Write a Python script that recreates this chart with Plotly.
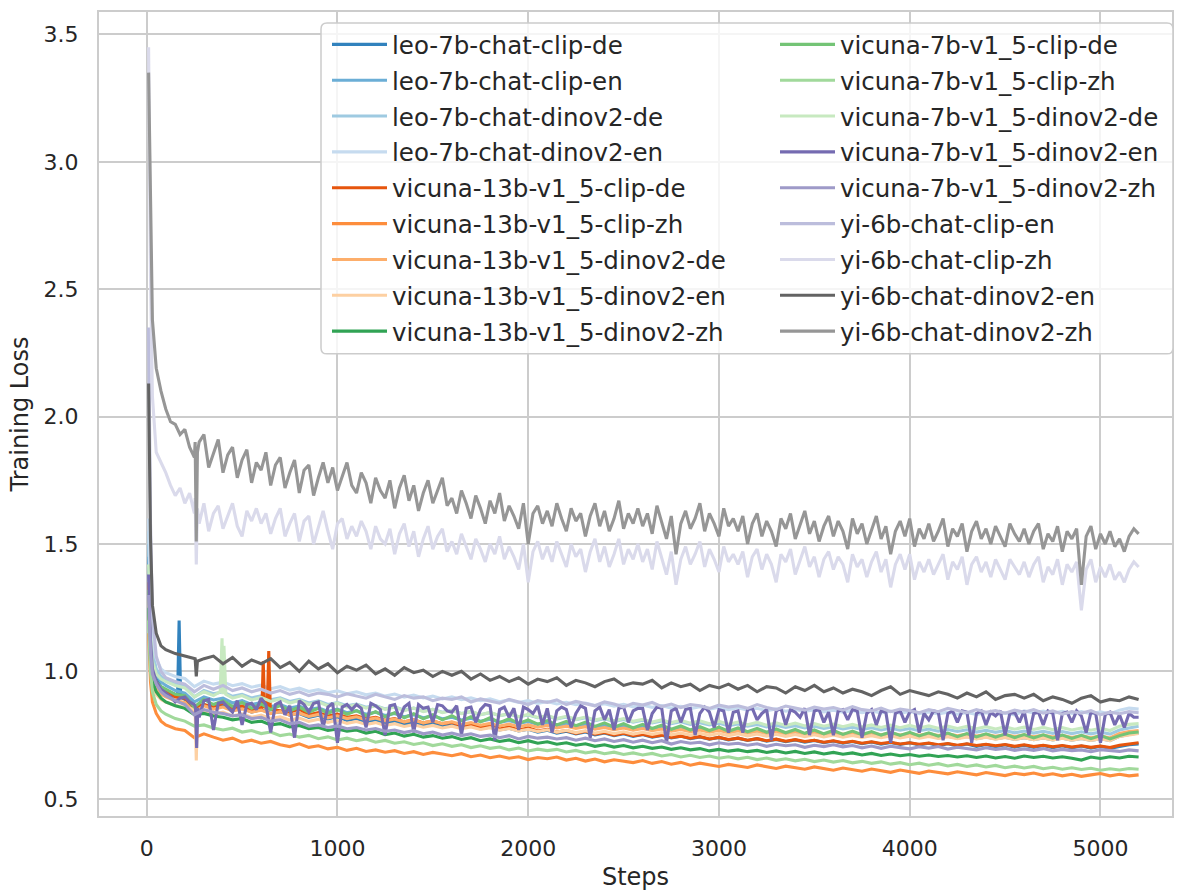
import plotly.graph_objects as go

# x grids of logged steps
STEPS = [10, 20, 30, 50, 75] + list(range(100, 5201, 50))
STEPS_FINE = [10, 20, 30, 50, 75] + list(range(100, 5201, 25))

# ---- series values ----
leo_clip_de = [1.45, 1.15, 1.03, 0.97, 0.94,
    0.925, 0.91, 0.89, 0.85, 0.87, 0.855, 0.865, 0.845, 0.858, 0.84,
    0.85, 0.835, 0.842, 0.828, 0.835, 0.82, 0.828, 0.814, 0.822, 0.808,
    0.815, 0.802, 0.81, 0.797, 0.804, 0.792, 0.8, 0.788, 0.795, 0.784,
    0.79, 0.779, 0.786, 0.774, 0.782, 0.77, 0.777, 0.766, 0.773, 0.762,
    0.769, 0.758, 0.765, 0.755, 0.762, 0.751, 0.758, 0.748, 0.755, 0.745,
    0.752, 0.742, 0.749, 0.739, 0.746, 0.736, 0.743, 0.734, 0.741, 0.731,
    0.738, 0.729, 0.736, 0.726, 0.733, 0.724, 0.731, 0.722, 0.729, 0.72,
    0.727, 0.718, 0.725, 0.716, 0.723, 0.714, 0.721, 0.713, 0.72, 0.711,
    0.718, 0.709, 0.716, 0.708, 0.715, 0.706, 0.713, 0.705, 0.712, 0.703,
    0.71, 0.702, 0.709, 0.701, 0.708, 0.7, 0.707, 0.699, 0.706, 0.698,
    0.705, 0.712, 0.715]
leo_clip_de_spike_steps = [162, 170, 178]
leo_clip_de_spike = [0.905, 1.2, 0.9]

leo_clip_en = [1.5, 1.17, 1.05, 0.99, 0.96,
    0.945, 0.925, 0.915, 0.88, 0.9, 0.888, 0.895, 0.876, 0.885, 0.87,
    0.878, 0.862, 0.87, 0.856, 0.864, 0.85, 0.857, 0.843, 0.852, 0.838,
    0.846, 0.832, 0.84, 0.827, 0.835, 0.822, 0.83, 0.818, 0.826, 0.814,
    0.82, 0.809, 0.816, 0.804, 0.812, 0.8, 0.807, 0.796, 0.803, 0.792,
    0.799, 0.788, 0.795, 0.785, 0.792, 0.781, 0.788, 0.778, 0.785, 0.775,
    0.782, 0.772, 0.779, 0.769, 0.776, 0.766, 0.773, 0.764, 0.771, 0.761,
    0.768, 0.759, 0.766, 0.756, 0.763, 0.754, 0.761, 0.752, 0.759, 0.75,
    0.757, 0.748, 0.755, 0.746, 0.753, 0.744, 0.751, 0.743, 0.75, 0.741,
    0.748, 0.739, 0.746, 0.738, 0.745, 0.736, 0.743, 0.735, 0.742, 0.733,
    0.74, 0.732, 0.739, 0.731, 0.738, 0.73, 0.737, 0.729, 0.736, 0.728,
    0.745, 0.752, 0.758]
leo_dinov2_de = [1.55, 1.2, 1.08, 1.01, 0.98,
    0.965, 0.95, 0.94, 0.9, 0.925, 0.912, 0.92, 0.902, 0.91, 0.896,
    0.904, 0.889, 0.896, 0.882, 0.89, 0.876, 0.884, 0.87, 0.878, 0.865,
    0.872, 0.859, 0.866, 0.853, 0.861, 0.848, 0.856, 0.844, 0.851, 0.84,
    0.847, 0.835, 0.842, 0.83, 0.838, 0.826, 0.833, 0.822, 0.829, 0.818,
    0.825, 0.814, 0.821, 0.811, 0.818, 0.807, 0.814, 0.804, 0.811, 0.801,
    0.808, 0.798, 0.805, 0.795, 0.802, 0.792, 0.799, 0.79, 0.797, 0.787,
    0.794, 0.785, 0.792, 0.782, 0.789, 0.78, 0.787, 0.778, 0.785, 0.776,
    0.783, 0.774, 0.781, 0.772, 0.779, 0.77, 0.777, 0.769, 0.776, 0.767,
    0.774, 0.765, 0.772, 0.764, 0.771, 0.762, 0.769, 0.761, 0.768, 0.759,
    0.766, 0.758, 0.765, 0.757, 0.764, 0.756, 0.763, 0.755, 0.762, 0.754,
    0.77, 0.778, 0.785]
leo_dinov2_en = [1.6, 1.24, 1.12, 1.05, 1.01,
    0.995, 0.98, 0.972, 0.94, 0.962, 0.95, 0.958, 0.944, 0.952, 0.938,
    0.946, 0.932, 0.94, 0.926, 0.934, 0.921, 0.929, 0.916, 0.924, 0.912,
    0.92, 0.908, 0.915, 0.903, 0.911, 0.899, 0.907, 0.896, 0.903, 0.892,
    0.9, 0.889, 0.896, 0.885, 0.892, 0.881, 0.888, 0.878, 0.885, 0.874,
    0.882, 0.872, 0.879, 0.869, 0.876, 0.866, 0.873, 0.864, 0.871, 0.861,
    0.868, 0.859, 0.866, 0.856, 0.863, 0.854, 0.861, 0.852, 0.859, 0.85,
    0.857, 0.848, 0.855, 0.846, 0.853, 0.844, 0.851, 0.843, 0.85, 0.841,
    0.848, 0.84, 0.847, 0.838, 0.845, 0.837, 0.844, 0.836, 0.843, 0.834,
    0.841, 0.833, 0.84, 0.832, 0.839, 0.831, 0.838, 0.83, 0.837, 0.829,
    0.845, 0.837, 0.844, 0.836, 0.843, 0.835, 0.842, 0.834, 0.841, 0.833,
    0.848, 0.856, 0.852]
vicuna13_clip_de = [1.35, 1.1, 1.0, 0.95, 0.93,
    0.92, 0.9, 0.895, 0.86, 0.87, 0.86, 0.875, 0.855, 0.865, 0.85,
    0.858, 0.85, 0.845, 0.84, 0.852, 0.83, 0.838, 0.825, 0.832, 0.82,
    0.826, 0.814, 0.82, 0.808, 0.815, 0.802, 0.81, 0.798, 0.805, 0.795,
    0.8, 0.786, 0.792, 0.78, 0.788, 0.774, 0.782, 0.77, 0.778, 0.766,
    0.773, 0.762, 0.768, 0.757, 0.765, 0.754, 0.76, 0.75, 0.757, 0.748,
    0.753, 0.744, 0.75, 0.741, 0.746, 0.738, 0.744, 0.735, 0.741, 0.733,
    0.738, 0.73, 0.736, 0.728, 0.734, 0.726, 0.732, 0.725, 0.73, 0.722,
    0.728, 0.72, 0.726, 0.718, 0.724, 0.717, 0.722, 0.715, 0.72, 0.714,
    0.719, 0.712, 0.717, 0.71, 0.716, 0.709, 0.714, 0.708, 0.713, 0.706,
    0.712, 0.705, 0.71, 0.704, 0.709, 0.703, 0.708, 0.702, 0.707, 0.701,
    0.71, 0.716, 0.72]
vicuna13_clip_de_spike_steps = [604, 611, 618, 632, 640, 648]
vicuna13_clip_de_spike = [0.855, 1.04, 0.86, 0.855, 1.08, 0.852]

vicuna13_clip_zh = [1.15, 0.96, 0.88, 0.835, 0.805,
    0.79, 0.775, 0.768, 0.74, 0.755, 0.742, 0.73, 0.738, 0.722, 0.73,
    0.718, 0.725, 0.712, 0.705, 0.716, 0.702, 0.708, 0.696, 0.702, 0.69,
    0.698, 0.686, 0.692, 0.683, 0.689, 0.678, 0.685, 0.674, 0.682, 0.676,
    0.669, 0.677, 0.665, 0.672, 0.661, 0.668, 0.659, 0.665, 0.654, 0.662,
    0.657, 0.664, 0.652, 0.659, 0.648, 0.656, 0.645, 0.653, 0.649, 0.642,
    0.65, 0.639, 0.646, 0.636, 0.643, 0.632, 0.64, 0.634, 0.627, 0.635,
    0.63, 0.623, 0.633, 0.625, 0.619, 0.628, 0.621, 0.616, 0.625, 0.618,
    0.612, 0.621, 0.614, 0.608, 0.617, 0.61, 0.604, 0.613, 0.607, 0.6,
    0.609, 0.603, 0.598, 0.606, 0.6, 0.594, 0.603, 0.597, 0.591, 0.6,
    0.595, 0.601, 0.592, 0.598, 0.59, 0.596, 0.588, 0.594, 0.599, 0.59,
    0.596, 0.59, 0.594]
vicuna13_dinov2_de = [1.3, 1.06, 0.97, 0.93, 0.91,
    0.9, 0.885, 0.878, 0.84, 0.865, 0.852, 0.86, 0.845, 0.853, 0.84,
    0.848, 0.834, 0.842, 0.828, 0.836, 0.823, 0.831, 0.818, 0.826, 0.815,
    0.822, 0.81, 0.817, 0.806, 0.813, 0.802, 0.809, 0.798, 0.806, 0.795,
    0.802, 0.792, 0.799, 0.789, 0.796, 0.786, 0.793, 0.783, 0.79, 0.781,
    0.788, 0.778, 0.785, 0.776, 0.783, 0.773, 0.78, 0.771, 0.778, 0.769,
    0.776, 0.767, 0.774, 0.765, 0.772, 0.763, 0.77, 0.762, 0.769, 0.76,
    0.767, 0.759, 0.766, 0.757, 0.764, 0.756, 0.763, 0.755, 0.762, 0.754,
    0.761, 0.753, 0.76, 0.752, 0.759, 0.751, 0.758, 0.75, 0.757, 0.749,
    0.756, 0.748, 0.755, 0.747, 0.754, 0.746, 0.753, 0.745, 0.752, 0.744,
    0.751, 0.743, 0.75, 0.742, 0.749, 0.741, 0.748, 0.74, 0.747, 0.739,
    0.756, 0.764, 0.768]
vicuna13_dinov2_en = [1.28, 1.04, 0.95, 0.91, 0.89,
    0.88, 0.866, 0.858, 0.852, 0.845, 0.832, 0.84, 0.825, 0.833, 0.82,
    0.828, 0.815, 0.822, 0.809, 0.817, 0.804, 0.812, 0.8, 0.808, 0.796,
    0.803, 0.792, 0.799, 0.788, 0.795, 0.784, 0.791, 0.781, 0.788, 0.778,
    0.785, 0.775, 0.782, 0.772, 0.779, 0.769, 0.776, 0.766, 0.773, 0.764,
    0.771, 0.762, 0.769, 0.76, 0.767, 0.758, 0.765, 0.756, 0.763, 0.754,
    0.761, 0.753, 0.76, 0.751, 0.758, 0.75, 0.757, 0.749, 0.756, 0.748,
    0.755, 0.747, 0.754, 0.746, 0.753, 0.745, 0.752, 0.744, 0.751, 0.743,
    0.75, 0.742, 0.749, 0.741, 0.748, 0.74, 0.747, 0.739, 0.746, 0.738,
    0.745, 0.737, 0.744, 0.736, 0.743, 0.735, 0.742, 0.734, 0.741, 0.733,
    0.74, 0.732, 0.739, 0.731, 0.738, 0.73, 0.737, 0.729, 0.736, 0.728,
    0.745, 0.752, 0.756]
vicuna13_dinov2_en_dip_steps = [254, 260, 266]
vicuna13_dinov2_en_dip = [0.85, 0.65, 0.848]

vicuna13_dinov2_zh = [1.25, 1.04, 0.96, 0.92, 0.895,
    0.88, 0.865, 0.855, 0.83, 0.835, 0.825, 0.82, 0.81, 0.815, 0.8,
    0.805, 0.79, 0.795, 0.782, 0.788, 0.775, 0.78, 0.768, 0.774, 0.765,
    0.77, 0.758, 0.765, 0.752, 0.758, 0.746, 0.753, 0.742, 0.748, 0.738,
    0.744, 0.733, 0.74, 0.728, 0.735, 0.725, 0.731, 0.72, 0.728, 0.718,
    0.724, 0.714, 0.72, 0.71, 0.716, 0.706, 0.712, 0.703, 0.709, 0.7,
    0.706, 0.698, 0.703, 0.694, 0.7, 0.692, 0.697, 0.688, 0.694, 0.687,
    0.692, 0.685, 0.69, 0.682, 0.688, 0.68, 0.686, 0.678, 0.684, 0.676,
    0.682, 0.675, 0.68, 0.672, 0.678, 0.67, 0.676, 0.669, 0.674, 0.667,
    0.672, 0.666, 0.67, 0.664, 0.669, 0.662, 0.668, 0.66, 0.666, 0.659,
    0.668, 0.662, 0.667, 0.66, 0.665, 0.659, 0.652, 0.664, 0.658, 0.665,
    0.66, 0.667, 0.664]
vicuna7_clip_de = [1.32, 1.09, 1.0, 0.96, 0.94,
    0.93, 0.91, 0.905, 0.86, 0.89, 0.87, 0.885, 0.862, 0.878, 0.855,
    0.872, 0.85, 0.866, 0.845, 0.86, 0.84, 0.855, 0.836, 0.85, 0.832,
    0.846, 0.826, 0.842, 0.822, 0.838, 0.818, 0.834, 0.814, 0.83, 0.81,
    0.826, 0.806, 0.822, 0.802, 0.818, 0.799, 0.814, 0.796, 0.81, 0.793,
    0.807, 0.79, 0.804, 0.787, 0.801, 0.784, 0.798, 0.781, 0.795, 0.778,
    0.792, 0.776, 0.789, 0.773, 0.786, 0.77, 0.783, 0.768, 0.781, 0.765,
    0.778, 0.763, 0.776, 0.761, 0.774, 0.759, 0.772, 0.757, 0.77, 0.755,
    0.768, 0.753, 0.766, 0.752, 0.764, 0.75, 0.762, 0.749, 0.761, 0.747,
    0.759, 0.746, 0.758, 0.744, 0.756, 0.743, 0.755, 0.742, 0.754, 0.74,
    0.752, 0.739, 0.751, 0.738, 0.75, 0.737, 0.749, 0.736, 0.748, 0.735,
    0.748, 0.758, 0.762]
vicuna7_clip_zh = [1.2, 1.0, 0.92, 0.87, 0.845,
    0.832, 0.815, 0.805, 0.785, 0.79, 0.778, 0.77, 0.777, 0.762, 0.768,
    0.756, 0.762, 0.748, 0.754, 0.742, 0.749, 0.736, 0.743, 0.731, 0.738,
    0.728, 0.735, 0.722, 0.729, 0.718, 0.724, 0.713, 0.72, 0.709, 0.716,
    0.706, 0.712, 0.701, 0.708, 0.698, 0.703, 0.692, 0.699, 0.688, 0.695,
    0.689, 0.694, 0.684, 0.69, 0.68, 0.686, 0.677, 0.683, 0.674, 0.68,
    0.672, 0.678, 0.668, 0.674, 0.664, 0.671, 0.662, 0.668, 0.659, 0.665,
    0.657, 0.663, 0.654, 0.66, 0.651, 0.657, 0.649, 0.655, 0.646, 0.652,
    0.644, 0.65, 0.641, 0.647, 0.639, 0.645, 0.636, 0.642, 0.634, 0.64,
    0.632, 0.638, 0.629, 0.635, 0.627, 0.633, 0.625, 0.631, 0.622, 0.628,
    0.621, 0.627, 0.618, 0.624, 0.616, 0.622, 0.615, 0.62, 0.612, 0.618,
    0.613, 0.619, 0.616]
vicuna7_dinov2_de = [1.42, 1.14, 1.04, 0.99, 0.97,
    0.96, 0.945, 0.935, 0.9, 0.92, 0.905, 0.91, 0.895, 0.905, 0.888,
    0.898, 0.882, 0.892, 0.876, 0.886, 0.87, 0.88, 0.865, 0.875, 0.86,
    0.87, 0.856, 0.865, 0.851, 0.86, 0.846, 0.856, 0.842, 0.851, 0.838,
    0.847, 0.834, 0.843, 0.83, 0.839, 0.826, 0.835, 0.822, 0.831, 0.819,
    0.827, 0.815, 0.824, 0.812, 0.821, 0.809, 0.818, 0.806, 0.815, 0.804,
    0.812, 0.801, 0.81, 0.799, 0.808, 0.797, 0.806, 0.795, 0.804, 0.793,
    0.801, 0.791, 0.8, 0.789, 0.798, 0.788, 0.797, 0.786, 0.795, 0.785,
    0.793, 0.783, 0.792, 0.782, 0.79, 0.78, 0.789, 0.779, 0.788, 0.778,
    0.786, 0.777, 0.785, 0.776, 0.784, 0.775, 0.783, 0.774, 0.782, 0.773,
    0.781, 0.772, 0.78, 0.771, 0.779, 0.77, 0.778, 0.769, 0.777, 0.768,
    0.785, 0.792, 0.795]
vicuna7_dinov2_de_spike_steps = [385, 395, 405, 415]
vicuna7_dinov2_de_spike = [0.92, 1.13, 1.1, 0.91]

vicuna7_dinov2_en = [1.38, 1.12, 1.01, 0.96, 0.93,
    0.915, 0.9, 0.88, 0.895, 0.9, 0.88, 0.87, 0.82, 0.885, 0.89,
    0.77, 0.875, 0.88, 0.86, 0.84, 0.885, 0.79, 0.87, 0.875, 0.85,
    0.895, 0.87, 0.76, 0.87, 0.88, 0.83, 0.865, 0.74, 0.885, 0.87,
    0.84, 0.875, 0.88, 0.78, 0.86, 0.875, 0.72, 0.86, 0.87, 0.85,
    0.87, 0.855, 0.78, 0.875, 0.865, 0.85, 0.75, 0.865, 0.87, 0.815,
    0.86, 0.875, 0.76, 0.87, 0.855, 0.86, 0.8, 0.87, 0.865, 0.845,
    0.84, 0.865, 0.75, 0.855, 0.86, 0.8, 0.85, 0.87, 0.865, 0.73,
    0.85, 0.86, 0.82, 0.855, 0.77, 0.86, 0.85, 0.835, 0.865, 0.79,
    0.855, 0.76, 0.845, 0.86, 0.85, 0.78, 0.835, 0.865, 0.855, 0.74,
    0.845, 0.86, 0.81, 0.85, 0.77, 0.855, 0.86, 0.8, 0.845, 0.855,
    0.855, 0.77, 0.835, 0.86, 0.855, 0.72, 0.845, 0.855, 0.8, 0.85,
    0.855, 0.75, 0.835, 0.86, 0.84, 0.78, 0.85, 0.845, 0.76, 0.84,
    0.845, 0.76, 0.85, 0.855, 0.81, 0.835, 0.85, 0.73, 0.845, 0.855,
    0.79, 0.85, 0.84, 0.82, 0.855, 0.75, 0.845, 0.85, 0.8, 0.84,
    0.75, 0.845, 0.85, 0.81, 0.85, 0.845, 0.74, 0.835, 0.85, 0.79,
    0.845, 0.84, 0.72, 0.835, 0.845, 0.8, 0.84, 0.85, 0.76, 0.835,
    0.81, 0.845, 0.84, 0.73, 0.835, 0.845, 0.8, 0.845, 0.84, 0.72,
    0.835, 0.845, 0.79, 0.84, 0.825, 0.845, 0.75, 0.835, 0.84, 0.8,
    0.845, 0.75, 0.835, 0.84, 0.79, 0.845, 0.835, 0.73, 0.835, 0.84,
    0.8, 0.845, 0.825, 0.76, 0.84, 0.835, 0.72, 0.83, 0.84, 0.79,
    0.83, 0.78, 0.835, 0.82, 0.82]
vicuna7_dinov2_en_dip_steps = [256, 262, 268]
vicuna7_dinov2_en_dip = [0.86, 0.70, 0.855]

vicuna7_dinov2_zh = [1.30, 1.08, 0.99, 0.95, 0.92,
    0.905, 0.885, 0.87, 0.83, 0.85, 0.84, 0.835, 0.825, 0.83, 0.815,
    0.82, 0.805, 0.81, 0.795, 0.8, 0.785, 0.79, 0.78, 0.786, 0.775,
    0.78, 0.77, 0.776, 0.765, 0.77, 0.76, 0.768, 0.755, 0.762, 0.75,
    0.758, 0.748, 0.755, 0.745, 0.75, 0.74, 0.748, 0.735, 0.745, 0.738,
    0.742, 0.735, 0.74, 0.73, 0.738, 0.728, 0.735, 0.725, 0.732, 0.722,
    0.73, 0.72, 0.728, 0.715, 0.725, 0.718, 0.722, 0.712, 0.72, 0.714,
    0.718, 0.71, 0.716, 0.706, 0.714, 0.708, 0.712, 0.702, 0.71, 0.705,
    0.712, 0.704, 0.709, 0.7, 0.707, 0.698, 0.706, 0.701, 0.696, 0.704,
    0.699, 0.705, 0.695, 0.702, 0.697, 0.692, 0.7, 0.694, 0.698, 0.69,
    0.696, 0.69, 0.697, 0.688, 0.694, 0.689, 0.692, 0.685, 0.693, 0.688,
    0.686, 0.692, 0.688]
yi_clip_en = [2.35, 1.58, 1.22, 1.06, 1.0,
    0.975, 0.96, 0.95, 0.92, 0.945, 0.93, 0.945, 0.925, 0.935, 0.92,
    0.93, 0.915, 0.925, 0.91, 0.92, 0.905, 0.915, 0.91, 0.9, 0.912,
    0.905, 0.895, 0.91, 0.9, 0.89, 0.905, 0.895, 0.9, 0.885, 0.895,
    0.89, 0.9, 0.88, 0.892, 0.885, 0.875, 0.89, 0.88, 0.87, 0.885,
    0.878, 0.888, 0.87, 0.882, 0.875, 0.865, 0.88, 0.872, 0.86, 0.875,
    0.868, 0.878, 0.862, 0.872, 0.858, 0.87, 0.865, 0.855, 0.868, 0.86,
    0.865, 0.855, 0.87, 0.858, 0.85, 0.864, 0.856, 0.848, 0.86, 0.852,
    0.858, 0.848, 0.862, 0.85, 0.845, 0.856, 0.842, 0.852, 0.846, 0.838,
    0.85, 0.842, 0.855, 0.845, 0.838, 0.85, 0.84, 0.846, 0.836, 0.848,
    0.84, 0.85, 0.836, 0.845, 0.832, 0.842, 0.836, 0.846, 0.83, 0.84,
    0.834, 0.842, 0.838]
yi_clip_zh = [3.45, 2.55, 2.08, 1.86, 1.82,
    1.78, 1.73, 1.69, 1.72, 1.66, 1.70, 1.62, 1.58, 1.66, 1.55,
    1.62, 1.65, 1.56, 1.61, 1.66, 1.57, 1.53, 1.63, 1.59, 1.64,
    1.58, 1.62, 1.54, 1.60, 1.64, 1.53, 1.58, 1.62, 1.51, 1.59,
    1.61, 1.50, 1.57, 1.63, 1.55, 1.48, 1.58, 1.60, 1.52, 1.57,
    1.53, 1.59, 1.55, 1.48, 1.57, 1.52, 1.50, 1.56, 1.46, 1.54,
    1.58, 1.49, 1.55, 1.45, 1.52, 1.57, 1.48, 1.53, 1.56, 1.47,
    1.51, 1.46, 1.54, 1.49, 1.44, 1.52, 1.48, 1.43, 1.50, 1.46,
    1.53, 1.44, 1.49, 1.45, 1.40, 1.50, 1.35, 1.47, 1.51, 1.44,
    1.49, 1.43, 1.51, 1.46, 1.41, 1.50, 1.45, 1.48, 1.39, 1.47,
    1.52, 1.43, 1.49, 1.41, 1.46, 1.52, 1.42, 1.48, 1.44, 1.50,
    1.43, 1.48, 1.40, 1.51, 1.45, 1.38, 1.47, 1.34, 1.44, 1.49,
    1.42, 1.46, 1.51, 1.41, 1.48, 1.44, 1.39, 1.49, 1.43, 1.46,
    1.42, 1.47, 1.37, 1.45, 1.48, 1.40, 1.46, 1.42, 1.35, 1.46,
    1.43, 1.48, 1.38, 1.44, 1.49, 1.41, 1.45, 1.37, 1.44, 1.47,
    1.40, 1.45, 1.42, 1.35, 1.46, 1.41, 1.44, 1.37, 1.43, 1.47,
    1.39, 1.44, 1.33, 1.42, 1.46, 1.40, 1.46, 1.36, 1.43, 1.39,
    1.44, 1.38, 1.42, 1.46, 1.36, 1.43, 1.40, 1.45, 1.34, 1.42,
    1.45, 1.39, 1.43, 1.37, 1.44, 1.40, 1.36, 1.44, 1.41, 1.38,
    1.43, 1.37, 1.42, 1.45, 1.35, 1.41, 1.38, 1.44, 1.34, 1.42,
    1.39, 1.43, 1.24, 1.40, 1.44, 1.35, 1.41, 1.37, 1.42, 1.36,
    1.39, 1.35, 1.40, 1.43, 1.41]
yi_clip_zh_dip_steps = [254, 260, 266]
yi_clip_zh_dip = [1.68, 1.42, 1.64]

yi_dinov2_en = [2.13, 1.52, 1.26, 1.15, 1.10,
    1.085, 1.07, 1.06, 1.05, 1.05, 1.06, 1.03, 1.055, 1.02, 1.045,
    1.03, 1.05, 1.015, 1.035, 1.00, 1.04, 1.01, 1.03, 0.995, 1.02,
    1.005, 1.025, 0.99, 1.01, 0.985, 1.015, 0.995, 1.005, 0.98, 1.0,
    0.985, 1.0, 0.97, 0.99, 0.965, 0.98, 0.96, 0.975, 0.95, 0.97,
    0.96, 0.975, 0.945, 0.965, 0.955, 0.94, 0.96, 0.97, 0.945, 0.955,
    0.95, 0.965, 0.935, 0.955, 0.94, 0.95, 0.925, 0.945, 0.935, 0.95,
    0.93, 0.945, 0.92, 0.94, 0.935, 0.915, 0.94, 0.925, 0.945, 0.92,
    0.935, 0.915, 0.93, 0.92, 0.905, 0.925, 0.94, 0.91, 0.925, 0.915,
    0.905, 0.92, 0.91, 0.895, 0.915, 0.90, 0.92, 0.89, 0.905, 0.91,
    0.895, 0.91, 0.885, 0.9, 0.89, 0.875, 0.895, 0.905, 0.88, 0.89,
    0.885, 0.90, 0.89]
yi_dinov2_en_dip_steps = [254, 260, 266]
yi_dinov2_en_dip = [1.05, 0.98, 1.04]

yi_dinov2_zh = [3.35, 2.78, 2.38, 2.19, 2.10,
    2.03, 1.98, 1.97, 1.93, 1.95, 1.88, 1.84, 1.90, 1.93, 1.80,
    1.86, 1.91, 1.78, 1.85, 1.88, 1.76, 1.83, 1.87, 1.74, 1.82,
    1.79, 1.86, 1.73, 1.81, 1.84, 1.72, 1.78, 1.83, 1.70, 1.79,
    1.81, 1.69, 1.76, 1.82, 1.74, 1.80, 1.71, 1.77, 1.82, 1.73,
    1.70, 1.78, 1.74, 1.66, 1.76, 1.71, 1.68, 1.75, 1.64, 1.72,
    1.77, 1.67, 1.73, 1.63, 1.70, 1.75, 1.66, 1.71, 1.76, 1.65,
    1.68, 1.62, 1.71, 1.66, 1.60, 1.69, 1.64, 1.58, 1.67, 1.62,
    1.70, 1.59, 1.65, 1.61, 1.56, 1.66, 1.50, 1.62, 1.65, 1.58,
    1.63, 1.57, 1.66, 1.60, 1.55, 1.64, 1.59, 1.62, 1.53, 1.61,
    1.66, 1.57, 1.63, 1.55, 1.60, 1.67, 1.56, 1.62, 1.58, 1.64,
    1.57, 1.62, 1.54, 1.65, 1.59, 1.52, 1.61, 1.46, 1.58, 1.63,
    1.56, 1.60, 1.66, 1.55, 1.62, 1.58, 1.53, 1.64, 1.57, 1.60,
    1.55, 1.61, 1.50, 1.58, 1.62, 1.53, 1.59, 1.55, 1.49, 1.60,
    1.56, 1.62, 1.52, 1.58, 1.63, 1.54, 1.59, 1.51, 1.57, 1.61,
    1.53, 1.59, 1.55, 1.48, 1.60, 1.54, 1.58, 1.50, 1.56, 1.61,
    1.52, 1.57, 1.46, 1.55, 1.59, 1.53, 1.60, 1.49, 1.56, 1.52,
    1.58, 1.51, 1.55, 1.60, 1.49, 1.56, 1.53, 1.58, 1.47, 1.55,
    1.59, 1.52, 1.56, 1.50, 1.57, 1.53, 1.49, 1.58, 1.54, 1.51,
    1.56, 1.50, 1.55, 1.58, 1.48, 1.54, 1.51, 1.57, 1.47, 1.55,
    1.52, 1.56, 1.34, 1.53, 1.57, 1.48, 1.54, 1.50, 1.55, 1.49,
    1.52, 1.47, 1.53, 1.56, 1.54]
yi_dinov2_zh_dip_steps = [254, 260, 266]
yi_dinov2_zh_dip = [1.90, 1.51, 1.86]

NAMES = [
    "leo-7b-chat-clip-de", "leo-7b-chat-clip-en", "leo-7b-chat-dinov2-de", "leo-7b-chat-dinov2-en",
    "vicuna-13b-v1_5-clip-de", "vicuna-13b-v1_5-clip-zh", "vicuna-13b-v1_5-dinov2-de",
    "vicuna-13b-v1_5-dinov2-en", "vicuna-13b-v1_5-dinov2-zh",
    "vicuna-7b-v1_5-clip-de", "vicuna-7b-v1_5-clip-zh", "vicuna-7b-v1_5-dinov2-de",
    "vicuna-7b-v1_5-dinov2-en", "vicuna-7b-v1_5-dinov2-zh",
    "yi-6b-chat-clip-en", "yi-6b-chat-clip-zh", "yi-6b-chat-dinov2-en", "yi-6b-chat-dinov2-zh",
]
VALUES = [
    leo_clip_de, leo_clip_en, leo_dinov2_de, leo_dinov2_en,
    vicuna13_clip_de, vicuna13_clip_zh, vicuna13_dinov2_de, vicuna13_dinov2_en, vicuna13_dinov2_zh,
    vicuna7_clip_de, vicuna7_clip_zh, vicuna7_dinov2_de, vicuna7_dinov2_en, vicuna7_dinov2_zh,
    yi_clip_en, yi_clip_zh, yi_dinov2_en, yi_dinov2_zh,
]
GRIDS = ([STEPS] * 12 + [STEPS_FINE] + [STEPS] * 2
         + [STEPS_FINE, STEPS, STEPS_FINE])
# isolated spikes / dips logged between grid steps
EXTRAS = {
    "leo-7b-chat-clip-de": (leo_clip_de_spike_steps, leo_clip_de_spike),
    "vicuna-13b-v1_5-clip-de": (vicuna13_clip_de_spike_steps, vicuna13_clip_de_spike),
    "vicuna-13b-v1_5-dinov2-en": (vicuna13_dinov2_en_dip_steps, vicuna13_dinov2_en_dip),
    "vicuna-7b-v1_5-dinov2-de": (vicuna7_dinov2_de_spike_steps, vicuna7_dinov2_de_spike),
    "vicuna-7b-v1_5-dinov2-en": (vicuna7_dinov2_en_dip_steps, vicuna7_dinov2_en_dip),
    "yi-6b-chat-clip-zh": (yi_clip_zh_dip_steps, yi_clip_zh_dip),
    "yi-6b-chat-dinov2-en": (yi_dinov2_en_dip_steps, yi_dinov2_en_dip),
    "yi-6b-chat-dinov2-zh": (yi_dinov2_zh_dip_steps, yi_dinov2_zh_dip),
}
COLORS = [
    "#3182bd", "#6baed6", "#9ecae1", "#c6dbef",
    "#e6550d", "#fd8d3c", "#fdae6b", "#fdd0a2",
    "#31a354", "#74c476", "#a1d99b", "#c7e9c0",
    "#756bb1", "#9e9ac8", "#bcbddc", "#dadaeb",
    "#636363", "#969696",
]
X_TICKS = [0, 1000, 2000, 3000, 4000, 5000]
Y_TICKS = [0.5, 1.0, 1.5, 2.0, 2.5, 3.0, 3.5]

for g, v in zip(GRIDS, VALUES):
    assert len(v) == len(g), (len(v), len(g))


def merged(grid, vals, extra):
    xs, ys = list(grid), list(vals)
    if extra:
        xs += list(extra[0])
        ys += list(extra[1])
    pts = sorted(zip(xs, ys))
    return [p[0] for p in pts], [p[1] for p in pts]


fig = go.Figure()
for i, (name, grid, vals, col) in enumerate(zip(NAMES, GRIDS, VALUES, COLORS)):
    xs, ys = merged(grid, vals, EXTRAS.get(name))
    fig.add_trace(go.Scatter(
        x=xs, y=ys, mode="lines", name=name,
        line=dict(color=col, width=3.1),
        legendgroup=name,
        legend="legend" if i < 9 else "legend2",
    ))

# plot-area geometry in pixels
W, H = 1184, 896
L, R, T, B = 99, 12, 10, 77
PW, PH = W - L - R, H - T - B


def px_x(p):
    return (p - L) / PW


def px_y(p):
    return (H - B - p) / PH


# legend frame (rounded)
x0, x1, y0, y1 = px_x(321), px_x(1173), px_y(354), px_y(21)
rx, ry = 6 / PW, 6 / PH
path = (f"M {x0+rx},{y1} L {x1-rx},{y1} Q {x1},{y1} {x1},{y1-ry} "
        f"L {x1},{y0+ry} Q {x1},{y0} {x1-rx},{y0} L {x0+rx},{y0} "
        f"Q {x0},{y0} {x0},{y0+ry} L {x0},{y1-ry} Q {x0},{y1} {x0+rx},{y1} Z")

axis_common = dict(
    showgrid=True, gridcolor="#cccccc", gridwidth=1.6,
    showline=True, linecolor="#cccccc", linewidth=2, mirror=True,
    zeroline=False, ticks="", tickfont=dict(size=22, color="#262626"),
)

legend_common = dict(
    xanchor="left", yanchor="top", bgcolor="rgba(0,0,0,0)", borderwidth=0,
    font=dict(size=24.5, color="#262626", family="DejaVu Sans"),
    itemwidth=55, tracegroupgap=1, traceorder="grouped",
    itemclick=False, itemdoubleclick=False,
)

fig.update_layout(
    width=W, height=H,
    margin=dict(l=L, r=R, t=T, b=B),
    paper_bgcolor="white", plot_bgcolor="white",
    font=dict(family="DejaVu Sans", color="#262626"),
    xaxis=dict(range=[-250, 5375], tickvals=X_TICKS,
               title=dict(text="Steps", font=dict(size=24), standoff=8),
               ticklabelstandoff=12, **axis_common),
    yaxis=dict(range=[0.4325, 3.588], tickvals=Y_TICKS, tickformat=".1f",
               title=dict(text="Training Loss", font=dict(size=24), standoff=8),
               ticklabelstandoff=14, **axis_common),
    legend=dict(x=px_x(327), y=px_y(20), **legend_common),
    legend2=dict(x=px_x(775), y=px_y(20), **legend_common),
    shapes=[dict(type="path", path=path, xref="paper", yref="paper",
                 fillcolor="rgba(255,255,255,0.8)",
                 line=dict(color="#cccccc", width=1.5), layer="above")],
    showlegend=True,
)

fig.write_html("out.html", config={"displayModeBar": False},
               post_script="document.body.style.margin='0';")
